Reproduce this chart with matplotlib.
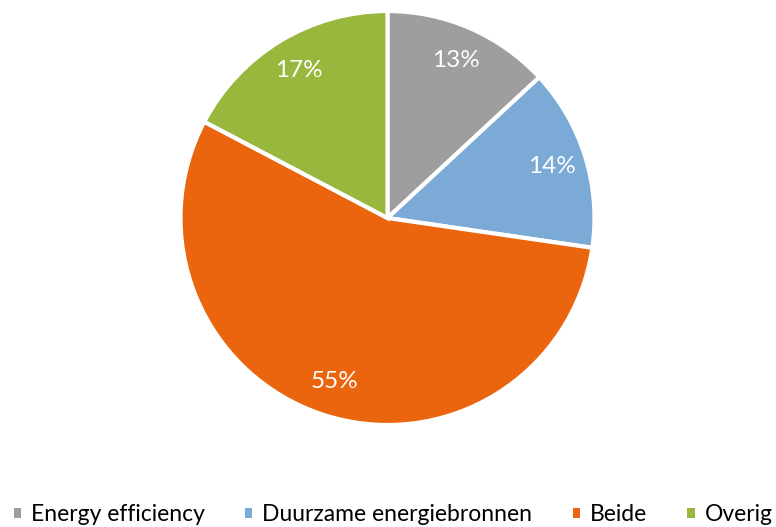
import matplotlib
matplotlib.use("Agg")
import matplotlib.pyplot as plt
from matplotlib.patches import Patch

categories = ["Energy efficiency", "Duurzame energiebronnen", "Beide", "Overig"]
values = [13.1, 14.2, 55.4, 17.3]
colors = ["#9E9E9E", "#7BAAD6", "#EB650E", "#9AB73D"]

plt.rcParams['font.family'] = ['Lato', 'DejaVu Sans']

W, H = 776, 527
fig = plt.figure(figsize=(W/100, H/100), dpi=100)
cx, cy, r = 387.5, 218, 207
ax = fig.add_axes([(cx - r)/W, (H - cy - r)/H, 2*r/W, 2*r/H])
wedges, texts, autotexts = ax.pie(
    values, colors=colors, startangle=90, counterclock=False,
    autopct=lambda p: f"{p:.0f}%", pctdistance=0.83,
    wedgeprops=dict(edgecolor="white", linewidth=3),
    textprops=dict(color="white", fontsize=17.5))
ax.set_xlim(-1, 1)
ax.set_ylim(-1, 1)
ax.set_aspect("equal")
ax.axis("off")

handles = [Patch(facecolor=c, edgecolor="none") for c in colors]
leg = fig.legend(handles, categories, loc="lower left", bbox_to_anchor=(-7/W, -19/H),
                 ncol=4, frameon=False, fontsize=16.5, handlelength=0.32,
                 handleheight=0.32, handletextpad=0.44, columnspacing=1.75)

fig.savefig("out.png", dpi=100)
